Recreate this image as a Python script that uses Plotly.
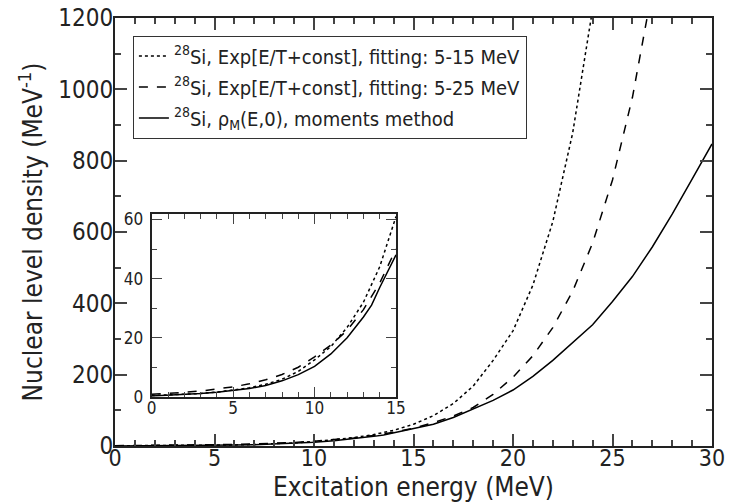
import plotly.graph_objects as go

# Excitation energy grids (MeV)
E_dot = list(range(0, 25))
rho_dot = [0.41, 0.57, 0.80, 1.12, 1.56, 2.18, 3.04, 4.24, 5.92, 8.6, 12.5, 17.0, 23.5, 32.0,
           44.0, 61.0, 85.0, 119.0, 168.0, 240.0, 323.0, 451.0, 629.0, 878.0, 1225.0]

E_dash = list(range(0, 28))
rho_dash = [0.87, 1.14, 1.49, 1.95, 2.56, 3.35, 4.39, 5.76, 7.54, 10.0, 13.5, 17.5, 22.5, 29.5,
            38.5, 50.0, 65.5, 84.0, 108.0, 145.0, 193.0, 253.0, 332.0, 434.0, 569.0, 746.0,
            977.0, 1280.0]

E_sol = [0, 1, 2, 3, 4, 5, 6, 7, 8, 9, 10, 11, 12, 13, 13.5, 14, 15, 16, 17, 18, 19, 20,
         21, 22, 23, 24, 25, 26, 27, 28, 29, 30]
rho_sol = [0.3, 0.5, 0.8, 1.1, 1.5, 2.1, 2.8, 3.8, 5.4, 7.5, 10.3, 14.5, 20.0, 27.0, 31.0,
           37.0, 48.0, 61.0, 80.0, 103.0, 128.0, 157.0, 195.0, 240.0, 290.0, 340.0, 405.0,
           475.0, 558.0, 650.0, 748.0, 847.0]

names = [
    "<sup>28</sup>Si, Exp[E/T+const], fitting: 5-15 MeV",
    "<sup>28</sup>Si, Exp[E/T+const], fitting: 5-25 MeV",
    "<sup>28</sup>Si, \u03c1<sub>M</sub>(E,0), moments method",
]

FONT = "Liberation Sans Narrow, DejaVu Sans Condensed, Arial Narrow, sans-serif"

fig = go.Figure()
series = [(E_dot, rho_dot, "dot"), (E_dash, rho_dash, "dash"), (E_sol, rho_sol, "solid")]
for i, (x, y, d) in enumerate(series):
    fig.add_trace(go.Scatter(x=x, y=y, mode="lines", name=names[i], legendgroup=str(i),
                             line=dict(color="black", width=1.5, dash=d),
                             xaxis="x", yaxis="y"))
for i, (x, y, d) in enumerate(series):
    xi = [a for a in x if a <= 15]
    yi = [b for a, b in zip(x, y) if a <= 15]
    fig.add_trace(go.Scatter(x=xi, y=yi, mode="lines", showlegend=False,
                             line=dict(color="black", width=1.5, dash=d),
                             xaxis="x2", yaxis="y2"))

axcommon = dict(showline=True, linecolor="#222", linewidth=2, mirror="ticks",
                ticks="inside", tickcolor="#444", showgrid=False, zeroline=False,
                color="#222", automargin=False)

fig.update_layout(
    width=730, height=502,
    margin=dict(l=115, r=18, t=18, b=56),
    paper_bgcolor="white", plot_bgcolor="white",
    font=dict(family=FONT, color="#222"),
    xaxis=dict(range=[0, 30], tickvals=[0, 5, 10, 15, 20, 25, 30], ticklen=12, tickwidth=1.5,
               minor=dict(dtick=1, ticks="inside", ticklen=6, tickcolor="#444"),
               tickfont=dict(size=23), ticklabelstandoff=-10,
               title=dict(text="Excitation energy (MeV)", font=dict(size=26), standoff=14),
               **axcommon),
    yaxis=dict(range=[0, 1200], tickvals=[0, 200, 400, 600, 800, 1000, 1200], ticklen=12,
               tickwidth=1.5, ticklabelstandoff=-5,
               minor=dict(dtick=100, ticks="inside", ticklen=6, tickcolor="#444"),
               tickfont=dict(size=24),
               title=dict(text="Nuclear level density (MeV<sup>-1</sup>)", font=dict(size=26),
                          standoff=8),
               **axcommon),
    xaxis2=dict(domain=[0.0615, 0.4707], anchor="y2", range=[0, 15], tickvals=[0, 5, 10, 15],
                ticklen=10, tickwidth=1.2, ticklabelstandoff=-5,
                minor=dict(dtick=1, ticks="inside", ticklen=5, tickcolor="#444"),
                tickfont=dict(size=17), **axcommon),
    yaxis2=dict(domain=[0.115, 0.543], anchor="x2", range=[0, 62], tickvals=[0, 20, 40, 60],
                ticklen=10, tickwidth=1.2, ticklabelstandoff=3,
                minor=dict(dtick=10, ticks="inside", ticklen=5, tickcolor="#444"),
                tickfont=dict(size=17), **axcommon),
    legend=dict(x=0.030, y=0.959, xanchor="left", yanchor="top",
                bgcolor="white", bordercolor="#333", borderwidth=1,
                font=dict(size=20, color="#222"), tracegroupgap=2),
    showlegend=True,
)

fig.write_html("out.html")
